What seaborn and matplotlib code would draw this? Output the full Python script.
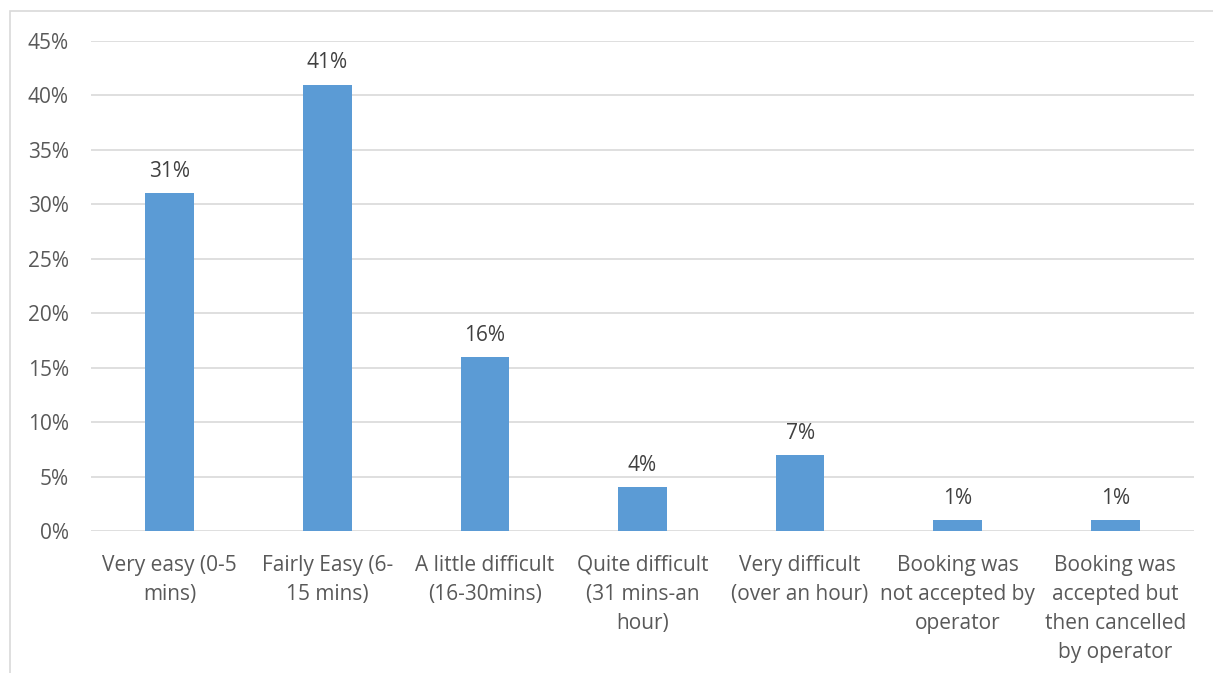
import matplotlib
matplotlib.use("Agg")
import matplotlib.pyplot as plt
import seaborn as sns
import pandas as pd
from matplotlib.ticker import PercentFormatter
from matplotlib.patches import Rectangle

categories = [
    "Very easy (0-5\nmins)",
    "Fairly Easy (6-\n15 mins)",
    "A little difficult\n(16-30mins)",
    "Quite difficult\n(31 mins-an\nhour)",
    "Very difficult\n(over an hour)",
    "Booking was\nnot accepted by\noperator",
    "Booking was\naccepted but\nthen cancelled\nby operator",
]
values = [31, 41, 16, 4, 7, 1, 1]
yticks = [0, 5, 10, 15, 20, 25, 30, 35, 40, 45]

sns.set_theme(style="white")
plt.rcParams['font.family'] = ['Open Sans', 'DejaVu Sans']

W, H = 1213, 673
FS = 15
fig = plt.figure(figsize=(W / 100, H / 100), dpi=100)
ax = fig.add_axes([91 / W, 1 - 531 / H, (1194 - 91) / W, (531 - 41) / H])

df = pd.DataFrame({"cat": categories, "val": values})
sns.barplot(data=df, x="cat", y="val", color="#5B9BD5", saturation=1, width=0.31,
            linewidth=0, ax=ax, zorder=3)

ax.set_ylim(0, 45)
ax.set_yticks(yticks)
ax.yaxis.set_major_formatter(PercentFormatter(decimals=0))
ax.set_xlim(-0.5, len(categories) - 0.5)
ax.grid(axis="y", color="#d9d9d9", linewidth=1.2, zorder=0)
for s in ax.spines.values():
    s.set_visible(False)
ax.set_xlabel("")
ax.set_ylabel("")
ax.tick_params(axis="y", length=0, pad=16, labelsize=FS, labelcolor="#595959")
ax.tick_params(axis="x", length=0, pad=17, labelsize=FS, labelcolor="#595959")
for lab in ax.get_xticklabels():
    lab.set_linespacing(1.5)

for i, v in enumerate(values):
    ax.annotate(f"{v}%", (i, v), xytext=(0, 8), textcoords="offset points",
                ha="center", va="bottom", fontsize=FS, color="#404040")

fig.patches.append(Rectangle((10 / W, -0.1), 1.2, 1 - 11 / H + 0.1, transform=fig.transFigure,
                             fill=False, edgecolor="#d9d9d9", linewidth=1.2))

fig.savefig("out.png", dpi=100)
